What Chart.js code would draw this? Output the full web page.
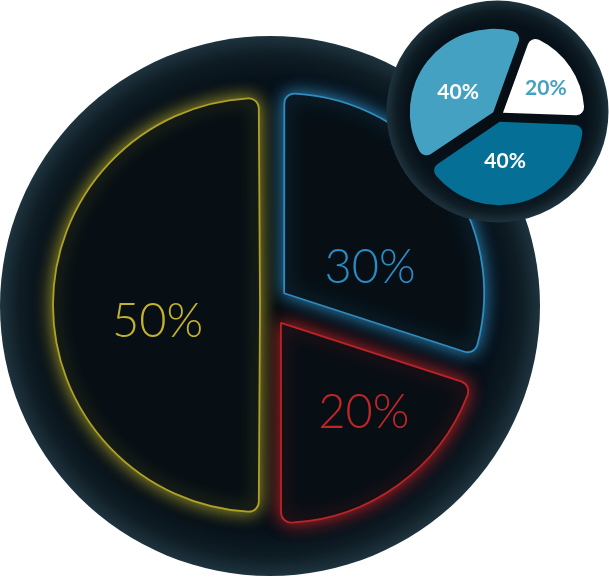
<!DOCTYPE html>
<html><head><meta charset="utf-8">
<script src="https://cdn.jsdelivr.net/npm/chart.js@4.4.1/dist/chart.umd.min.js"></script>
<style>
html,body{margin:0;padding:0;background:#fff;width:609px;height:580px;overflow:hidden}
#big{position:absolute;left:0;top:0}
#small{position:absolute;left:380px;top:0}
</style></head><body>
<canvas id="big" width="609" height="580"></canvas>
<canvas id="small" width="229" height="232"></canvas>
<script>
// ---- data ----
const mainCategories = ['30%', '20%', '50%'];
const mainValues = [30, 20, 50];
const insetCategories = ['40%', '20%', '40%'];
const insetValues = [40, 20, 40];

// ---- plugins (styling only) ----
const discPlugin = {
  id: 'disc',
  beforeDatasetsDraw(chart, args, o) {
    const el = chart.getDatasetMeta(0).data[0];
    const cx = el.x + o.dx, cy = el.y + o.dy, r = o.r;
    const ctx = chart.ctx;
    ctx.save();
    const g = ctx.createRadialGradient(cx, cy, 0, cx, cy, r);
    g.addColorStop(0, '#060d12');
    g.addColorStop(o.inner, '#07111a');
    g.addColorStop(1 - (1 - o.inner) * 0.45, '#0e1c24');
    g.addColorStop(1, '#1e333e');
    ctx.beginPath();
    ctx.arc(cx, cy, r, 0, Math.PI * 2);
    ctx.fillStyle = g;
    ctx.fill();
    ctx.restore();
  }
};

const glowPlugin = {
  id: 'glow',
  beforeDatasetDraw(chart, args, o) {
    args.meta.data.forEach((el, i) => {
      if (el._glowWrapped) return;
      const orig = el.draw;
      el.draw = function (ctx) {
        ctx.save();
        ctx.shadowColor = o.colors[i];
        ctx.shadowBlur = o.blur;
        orig.call(this, ctx);
        ctx.restore();
      };
      el._glowWrapped = true;
    });
  }
};

const labelPlugin = {
  id: 'sliceLabels',
  afterDatasetsDraw(chart, args, o) {
    const meta = chart.getDatasetMeta(0);
    const ctx = chart.ctx;
    ctx.save();
    ctx.font = o.font;
    ctx.textAlign = 'center';
    ctx.textBaseline = 'alphabetic';
    meta.data.forEach((el, i) => {
      const p = el.getProps(['x', 'y', 'startAngle', 'endAngle', 'outerRadius'], true);
      const mid = (p.startAngle + p.endAngle) / 2 + o.angleShift[i] * Math.PI / 180;
      const r = p.outerRadius * o.radial[i];
      const px = p.x + Math.cos(mid) * r;
      const py = p.y + Math.sin(mid) * r + o.size * 0.358;
      ctx.fillStyle = o.colors[i];
      ctx.fillText(chart.data.labels[i], px, py);
    });
    ctx.restore();
  }
};

// ---- main pie ----
new Chart(document.getElementById('big'), {
  type: 'pie',
  data: {
    labels: mainCategories,
    datasets: [{
      data: mainValues,
      backgroundColor: '#070f15',
      borderColor: ['#2f8cbd', '#b92426', '#aea129'],
      borderWidth: 1.8,
      borderRadius: 10,
      offset: [80, 88, 32]
    }]
  },
  options: {
    responsive: false,
    devicePixelRatio: 1,
    animation: false,
    events: [],
    radius: 199,
    layout: { padding: { left: 0, right: 73, top: 30, bottom: 0 } },
    plugins: {
      legend: { display: false },
      tooltip: { enabled: false },
      disc: { dx: 2, dy: 1, r: 270, inner: 0.84 },
      glow: { colors: ['rgba(50,150,205,0.95)', 'rgba(205,36,38,0.95)', 'rgba(190,176,40,0.9)'], blur: 18 },
      sliceLabels: {
        font: '300 47px Lato', size: 47,
        colors: ['#2a8cc4', '#c22527', '#c4b22a'],
        angleShift: [15, -6, -8],
        radial: [0.55, 0.72, 0.56]
      }
    }
  },
  plugins: [discPlugin, glowPlugin, labelPlugin]
});

// ---- inset pie ----
new Chart(document.getElementById('small'), {
  type: 'pie',
  data: {
    labels: insetCategories,
    datasets: [{
      data: insetValues,
      backgroundColor: ['#45a1c1', '#ffffff', '#056f96'],
      borderWidth: 0,
      borderRadius: 8,
      offset: 24
    }]
  },
  options: {
    responsive: false,
    devicePixelRatio: 1,
    animation: false,
    events: [],
    radius: 81,
    rotation: -124,
    layout: { padding: { left: 7, right: 0, top: 0, bottom: 0 } },
    plugins: {
      legend: { display: false },
      tooltip: { enabled: false },
      disc: { dx: -0.5, dy: -4.5, r: 111, inner: 0.8 },
      sliceLabels: {
        font: 'bold 21px Lato', size: 21,
        colors: ['#ffffff', '#45a1c1', '#ffffff'],
        angleShift: [-6, 3, 7],
        radial: [0.58, 0.69, 0.56]
      }
    }
  },
  plugins: [discPlugin, labelPlugin]
});
</script>
</body></html>
